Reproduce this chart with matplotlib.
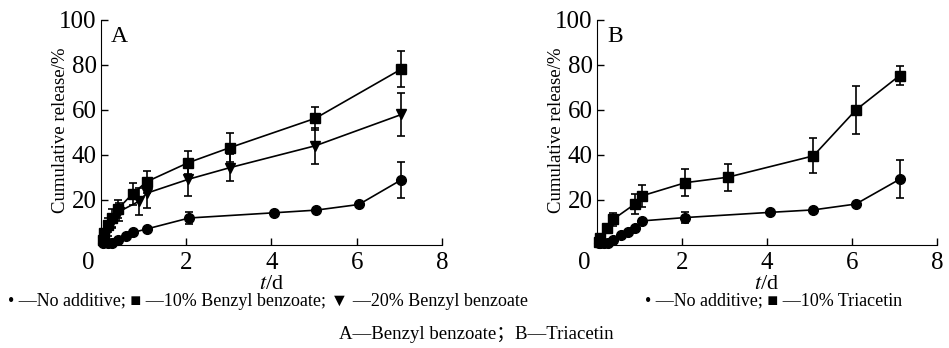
import numpy as np
import matplotlib
matplotlib.use("Agg")
import matplotlib.pyplot as plt
import matplotlib.transforms as mtransforms

plt.rcParams['font.family'] = ['Liberation Serif', 'DejaVu Sans', 'Noto Sans CJK SC']
plt.rcParams['mathtext.fontset'] = 'stix'

# panel A - benzyl benzoate
a_none_t = [0.04, 0.08, 0.17, 0.25, 0.41, 0.58, 0.76, 1.07, 2.07, 4.05, 5.05, 6.05, 7.05]
a_none_y = [1.0, 1.5, 1.0, 1.0, 2.2, 4.1, 5.6, 7.1, 12.0, 14.3, 15.5, 18.0, 29.0]
a_none_e = [0.5, 0.5, 0.5, 0.5, 0.5, 0.5, 0.5, 0.8, 2.5, 1.0, 1.0, 1.0, 8.0]

a_bb10_t = [0.04, 0.08, 0.17, 0.25, 0.39, 0.74, 1.07, 2.05, 3.03, 5.03, 7.05]
a_bb10_y = [2.2, 5.2, 8.9, 11.9, 15.9, 22.7, 28.1, 36.6, 43.3, 56.3, 78.2]
a_bb10_e = [1.0, 2.0, 3.0, 4.0, 4.0, 4.8, 5.0, 5.0, 6.3, 5.2, 8.0]

a_bb20_t = [0.04, 0.08, 0.17, 0.25, 0.42, 0.9, 1.07, 2.05, 3.03, 5.03, 7.05]
a_bb20_y = [1.5, 3.4, 6.7, 10.4, 14.8, 19.5, 23.0, 29.2, 34.4, 44.1, 58.0]
a_bb20_e = [1.0, 1.5, 2.5, 3.0, 4.0, 6.0, 6.4, 7.5, 6.0, 8.0, 9.6]

# panel B - triacetin
b_none_t = [0.04, 0.08, 0.17, 0.25, 0.38, 0.56, 0.74, 0.89, 1.05, 2.08, 4.07, 5.09, 6.09, 7.12]
b_none_y = [1.0, 1.0, 1.0, 1.0, 2.2, 4.4, 5.9, 7.4, 10.7, 12.2, 14.5, 15.6, 18.2, 29.2]
b_none_e = [0.5, 0.5, 0.5, 0.5, 0.5, 0.5, 0.5, 0.5, 0.8, 2.5, 1.0, 1.0, 1.0, 8.4]

b_tri_t = [0.04, 0.07, 0.23, 0.38, 0.89, 1.05, 2.08, 3.07, 5.09, 6.09, 7.12]
b_tri_y = [1.5, 3.0, 7.4, 11.4, 18.2, 21.8, 27.7, 30.1, 39.6, 60.0, 75.3]
b_tri_e = [0.8, 1.0, 2.0, 3.0, 4.5, 5.0, 6.0, 6.0, 7.8, 10.8, 4.2]

xticks = [0, 2, 4, 6, 8]
yticks = [20, 40, 60, 80, 100]


def setup(ax, letter):
    ax.set_xlim(0, 8)
    ax.set_ylim(0, 100)
    ax.set_xticks(xticks)
    ax.set_yticks(yticks)
    ax.spines['top'].set_visible(False)
    ax.spines['right'].set_visible(False)
    ax.tick_params(direction='in', labelsize=18, length=5, width=1)
    ax.tick_params(axis='x', pad=5)
    ax.tick_params(axis='y', pad=3)
    ax.set_xlabel('$t$/d', fontsize=16, labelpad=1)
    ax.set_ylabel('Cumulative release/%', fontsize=13.5)
    ax.yaxis.set_label_coords(-0.094, 0.51)
    ax.text(0.03, 0.975, letter, transform=ax.transAxes, fontsize=17, va='top')
    # zero label sits a bit left of the corner
    lab0 = ax.get_xticklabels()[0]
    lab0.set_transform(lab0.get_transform() +
                       mtransforms.ScaledTranslation(-13 / 100, 0, fig.dpi_scale_trans))


def series(ax, t, y, e, m, ms):
    ax.errorbar(t, y, yerr=e, color='black', marker=m, markersize=ms, linewidth=1.2,
                elinewidth=1.2, capsize=3, capthick=1.2, clip_on=False, zorder=3)


fig = plt.figure(figsize=(9.49, 3.48), dpi=100)
ax1 = fig.add_axes([0.1064, 0.296, 0.3593, 0.6466])
ax2 = fig.add_axes([0.6291, 0.296, 0.3583, 0.6466])

series(ax1, a_none_t, a_none_y, a_none_e, 'o', 7)
series(ax1, a_bb10_t, a_bb10_y, a_bb10_e, 's', 7.5)
series(ax1, a_bb20_t, a_bb20_y, a_bb20_e, 'v', 7.5)
setup(ax1, 'A')

series(ax2, b_none_t, b_none_y, b_none_e, 'o', 7)
series(ax2, b_tri_t, b_tri_y, b_tri_e, 's', 7.5)
setup(ax2, 'B')

fig.text(0.008, 0.134, '\u2022 \u2014No additive; \u25a0 \u201410% Benzyl benzoate; \u25bc \u201420% Benzyl benzoate',
         fontsize=13, va='center')
fig.text(0.68, 0.134, '\u2022 \u2014No additive; \u25a0 \u201410% Triacetin', fontsize=13, va='center')
fig.text(0.502, 0.04, 'A\u2014Benzyl benzoate\uff1bB\u2014Triacetin', fontsize=13.5, ha='center', va='center')

fig.savefig('out.png', dpi=100)
